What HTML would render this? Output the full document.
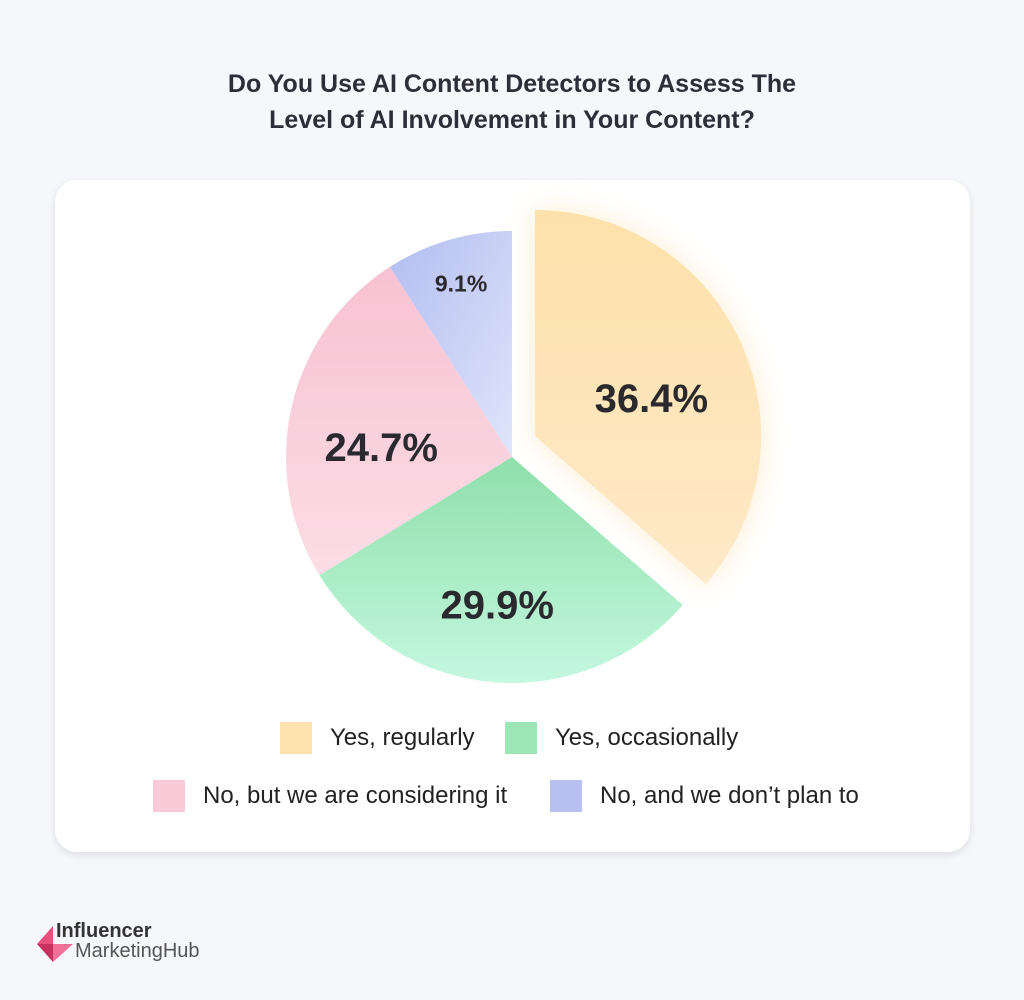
<!DOCTYPE html>
<html><head><meta charset="utf-8"><style>
html,body{margin:0;padding:0;width:1024px;height:1000px;background:#f6f7fa;font-family:"Liberation Sans",sans-serif;overflow:hidden}
.title{position:absolute;left:0;width:1024px;top:66px;text-align:center;font-size:25px;font-weight:bold;color:#2e2e38;line-height:36px}
.card{position:absolute;left:55px;top:180px;width:915px;height:672px;background:#fff;border-radius:22px;box-shadow:0 3px 8px rgba(0,0,0,0.10)}
.leg{position:absolute;display:flex;align-items:center;font-size:24px;color:#222}
.sw{width:32px;height:32px;margin-right:18px}
</style></head><body>
<div class="title">Do You Use AI Content Detectors to Assess The<br>Level of AI Involvement in Your Content?</div>
<div class="card"></div>
<svg id="pie" width="1024" height="1000" style="position:absolute;left:0;top:0">
<defs>
<linearGradient id="g0" x1="0" y1="0" x2="0" y2="1"><stop offset="0" stop-color="#fde1aa"/><stop offset="1" stop-color="#fee9c8"/></linearGradient>
<linearGradient id="g1" x1="0" y1="0" x2="0" y2="1"><stop offset="0" stop-color="#8fdfab"/><stop offset="1" stop-color="#c4f8e0"/></linearGradient>
<linearGradient id="g2" x1="0" y1="0" x2="0" y2="1"><stop offset="0" stop-color="#f7c2d3"/><stop offset="1" stop-color="#fcdde6"/></linearGradient>
<linearGradient id="g3" x1="0" y1="0" x2="1" y2="1"><stop offset="0" stop-color="#b3bdf0"/><stop offset="1" stop-color="#dfe5fb"/></linearGradient>
<filter id="glow" x="-30%" y="-30%" width="160%" height="160%"><feGaussianBlur stdDeviation="14"/></filter>
</defs>
</svg>
<div class="leg" style="left:280px;top:722px"><div class="sw" style="background:#fde2ad"></div>Yes, regularly</div>
<div class="leg" style="left:505px;top:722px"><div class="sw" style="background:#9ce6b6"></div>Yes, occasionally</div>
<div class="leg" style="left:153px;top:780px"><div class="sw" style="background:#f9cbd9"></div>No, but we are considering it</div>
<div class="leg" style="left:550px;top:780px"><div class="sw" style="background:#b7c0f1"></div>No, and we don’t plan to</div>
<div style="position:absolute;left:35px;top:922px;width:200px;height:44px">
<svg width="44" height="44" style="position:absolute;left:0;top:0"><polygon points="18,4 18,22 2,22" fill="#e8507f"/><polygon points="2,22 18,22 18,40" fill="#c83062"/><polygon points="18,22 38,22 18,40" fill="#f07099"/></svg>
<div style="position:absolute;left:21px;top:-2px;font-size:20px;font-weight:bold;color:#333">Influencer</div>
<div style="position:absolute;left:40px;top:18px;font-size:20px;color:#555">MarketingHub</div>
</div>
<script>
const categories=["Yes, regularly","Yes, occasionally","No, but we are considering it","No, and we don’t plan to"];
const values=[36.4,29.9,24.7,9.1];
const valueLabels=["36.4%","29.9%","24.7%","9.1%"];
const fills=["url(#g0)","url(#g1)","url(#g2)","url(#g3)"];
const labelRadius=[0.54,0.66,0.58,0.80];
const labelShiftDeg=[7,1,-9,0];
const labelSize=[40,40,40,23];
const svg=document.getElementById('pie');
const NS="http://www.w3.org/2000/svg";
const cx=512,cy=457,R=226,exDx=23,exDy=-21;
const total=values.reduce((a,b)=>a+b,0);
function pt(x,y,r,a){return [x+r*Math.sin(a),y-r*Math.cos(a)];}
let a0=0;
values.forEach((v,i)=>{
  const a1=a0+v/total*2*Math.PI, mid=(a0+a1)/2;
  let ox=cx,oy=cy;
  if(i===0){ox=cx+exDx;oy=cy+exDy;}
  const p0=pt(ox,oy,R,a0),p1=pt(ox,oy,R,a1),large=(a1-a0)>Math.PI?1:0;
  const d=`M${ox},${oy} L${p0[0]},${p0[1]} A${R},${R} 0 ${large} 1 ${p1[0]},${p1[1]} Z`;
  if(i===0){
    const g=document.createElementNS(NS,'path');
    g.setAttribute('d',d);g.setAttribute('fill','#fde6bd');g.setAttribute('opacity','0.7');g.setAttribute('filter','url(#glow)');
    
    
    svg.appendChild(g);
  }
  const p=document.createElementNS(NS,'path');
  p.setAttribute('d',d);p.setAttribute('fill',fills[i]);
  
  
  svg.appendChild(p);
  const lp=pt(ox,oy,R*labelRadius[i],mid+labelShiftDeg[i]*Math.PI/180);
  const t=document.createElementNS(NS,'text');
  t.setAttribute('x',lp[0]);t.setAttribute('y',lp[1]);
  t.setAttribute('text-anchor','middle');t.setAttribute('dominant-baseline','central');
  t.setAttribute('font-family','Liberation Sans, sans-serif');t.setAttribute('font-weight','bold');
  t.setAttribute('font-size',labelSize[i]);t.setAttribute('fill','#2a2a2e');
  t.textContent=valueLabels[i];
  
  
  svg.appendChild(t);
  a0=a1;
});
</script>
</body></html>
